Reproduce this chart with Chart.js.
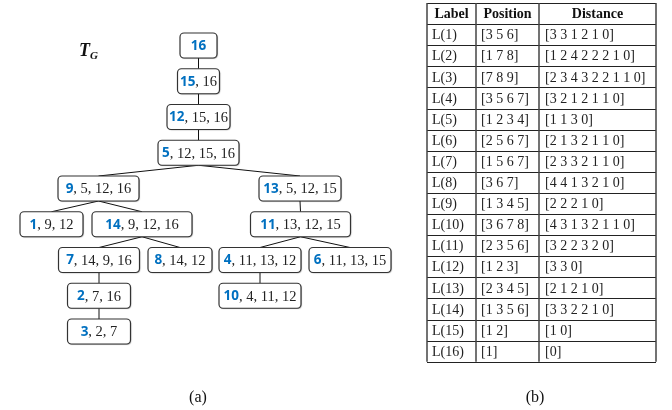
<!DOCTYPE html>
<html>
<head>
<meta charset="utf-8">
<script src="https://cdn.jsdelivr.net/npm/chart.js@4/dist/chart.umd.min.js"></script>
<style>
  html, body { margin: 0; padding: 0; background: #fff; }
  canvas { display: block; }
</style>
</head>
<body>
<canvas id="chart" width="672" height="410"></canvas>
<script>
// tree T_G : node label, its parent and the rest of its list
const nodeIds = [16, 15, 12, 5, 9, 13, 1, 14, 11, 7, 8, 4, 6, 2, 3, 10];
const nodeParent = [null, 16, 15, 12, 5, 5, 9, 9, 13, 14, 14, 11, 11, 7, 2, 4];
const nodeRest = [[], [16], [15, 16], [12, 15, 16], [5, 12, 16], [5, 12, 15], [9, 12], [9, 12, 16],
    [13, 12, 15], [14, 9, 16], [14, 12], [11, 13, 12], [11, 13, 15], [7, 16], [2, 7], [4, 11, 12]];

// table (b)
const tableHeader = ["Label", "Position", "Distance"];
const positions = [[3, 5, 6], [1, 7, 8], [7, 8, 9], [3, 5, 6, 7], [1, 2, 3, 4], [2, 5, 6, 7], [1, 5, 6, 7], [3, 6, 7],
    [1, 3, 4, 5], [3, 6, 7, 8], [2, 3, 5, 6], [1, 2, 3], [2, 3, 4, 5], [1, 3, 5, 6], [1, 2], [1]];
const distances = [[3, 3, 1, 2, 1, 0], [1, 2, 4, 2, 2, 2, 1, 0], [2, 3, 4, 3, 2, 2, 1, 1, 0], [3, 2, 1, 2, 1, 1, 0],
    [1, 1, 3, 0], [2, 1, 3, 2, 1, 1, 0], [2, 3, 3, 2, 1, 1, 0], [4, 4, 1, 3, 2, 1, 0], [2, 2, 2, 1, 0],
    [4, 3, 1, 3, 2, 1, 1, 0], [3, 2, 2, 3, 2, 0], [3, 3, 0], [2, 1, 2, 1, 0], [3, 3, 2, 2, 1, 0], [1, 0], [0]];

// layout of the tree drawing (horizontal slot and box width of each node)
const layoutX = [198.5, 198.5, 198.5, 198.5, 98.5, 300, 51.5, 142, 300.5, 99, 180, 260, 350, 99, 99, 260];
const boxW = [37, 42, 63, 81, 81, 82, 63, 100, 100, 81, 64, 82, 82, 63, 63, 82];
const boxH = 25;
const levelTop = 45.5, levelStep = 35.75;

const SERIF = '"Liberation Serif", "DejaVu Serif", serif';
const SANS = '"Noto Sans", "Liberation Sans", sans-serif';

function depthOf(i) {
    let d = 0, p = nodeParent[i];
    while (p !== null) {
        d++;
        p = nodeParent[nodeIds.indexOf(p)];
    }
    return d;
}

const nodePoints = nodeIds.map((id, i) => ({x: layoutX[i], y: levelTop + depthOf(i) * levelStep}));

function roundRect(ctx, x, y, w, h, r) {
    ctx.beginPath();
    ctx.moveTo(x + r, y);
    ctx.arcTo(x + w, y, x + w, y + h, r);
    ctx.arcTo(x + w, y + h, x, y + h, r);
    ctx.arcTo(x, y + h, x, y, r);
    ctx.arcTo(x, y, x + w, y, r);
    ctx.closePath();
}

const treePlugin = {
    id: 'treeDraw',
    afterDatasetsDraw(chart) {
        const ctx = chart.ctx;
        const pts = chart.getDatasetMeta(0).data;
        ctx.save();
        // edges: parent bottom centre to child top centre
        ctx.strokeStyle = '#111';
        ctx.lineWidth = 1;
        nodeIds.forEach((id, i) => {
            if (nodeParent[i] === null) return;
            const p = pts[nodeIds.indexOf(nodeParent[i])];
            const c = pts[i];
            ctx.beginPath();
            ctx.moveTo(p.x, p.y + boxH / 2);
            ctx.lineTo(c.x, c.y - boxH / 2);
            ctx.stroke();
        });
        // boxes
        nodeIds.forEach((id, i) => {
            const c = pts[i];
            const w = boxW[i];
            ctx.save();
            ctx.shadowColor = 'rgba(0,0,0,0.35)';
            ctx.shadowOffsetX = 0.8;
            ctx.shadowOffsetY = 0.8;
            ctx.shadowBlur = 1;
            roundRect(ctx, c.x - w / 2, c.y - boxH / 2, w, boxH, 4);
            ctx.fillStyle = '#fff';
            ctx.fill();
            ctx.restore();
            roundRect(ctx, c.x - w / 2, c.y - boxH / 2, w, boxH, 4);
            ctx.strokeStyle = '#333';
            ctx.lineWidth = 1.2;
            ctx.stroke();

            const head = String(id);
            const rest = nodeRest[i].length ? ', ' + nodeRest[i].join(', ') : '';
            ctx.font = 'bold 13.5px ' + SANS;
            const w1 = ctx.measureText(head).width;
            ctx.font = '14.5px ' + SERIF;
            const w2 = ctx.measureText(rest).width;
            let x = c.x - (w1 + w2) / 2;
            ctx.textBaseline = 'middle';
            ctx.textAlign = 'left';
            ctx.font = 'bold 13.5px ' + SANS;
            ctx.fillStyle = '#0070C0';
            ctx.fillText(head, x, c.y + 0.5);
            ctx.font = '14.5px ' + SERIF;
            ctx.fillStyle = '#222';
            ctx.fillText(rest, x + w1, c.y + 1);
        });
        // title T_G
        const xs = chart.scales.x, ys = chart.scales.y;
        ctx.fillStyle = '#111';
        ctx.textBaseline = 'alphabetic';
        ctx.font = 'italic bold 18px ' + SERIF;
        ctx.fillText('T', xs.getPixelForValue(79), ys.getPixelForValue(56));
        ctx.font = 'italic bold 11px ' + SERIF;
        ctx.fillText('G', xs.getPixelForValue(90), ys.getPixelForValue(59));
        ctx.restore();
    }
};

const tablePlugin = {
    id: 'tableDraw',
    afterDatasetsDraw(chart) {
        const ctx = chart.ctx;
        const xs = chart.scales.x, ys = chart.scales.y;
        const colX = [427, 476, 539, 656].map(v => xs.getPixelForValue(v));
        const top = 3, rowH = 21.1;
        const nRows = positions.length + 1;
        const rowY = k => ys.getPixelForValue(top + k * rowH);
        ctx.save();
        // text
        ctx.textBaseline = 'middle';
        ctx.fillStyle = '#111';
        ctx.font = 'bold 14px ' + SERIF;
        ctx.textAlign = 'center';
        tableHeader.forEach((h, j) => {
            ctx.fillText(h, (colX[j] + colX[j + 1]) / 2, (rowY(0) + rowY(1)) / 2 + 1);
        });
        ctx.font = '14px ' + SERIF;
        ctx.textAlign = 'left';
        ctx.fillStyle = '#222';
        positions.forEach((p, i) => {
            const cy = (rowY(i + 1) + rowY(i + 2)) / 2 + 1;
            ctx.fillText('L(' + (i + 1) + ')', colX[0] + 5, cy);
            ctx.fillText('[' + p.join(' ') + ']', colX[1] + 5, cy);
            ctx.fillText('[' + distances[i].join(' ') + ']', colX[2] + 6, cy);
        });
        // grid
        ctx.strokeStyle = '#222';
        ctx.lineWidth = 1;
        for (let k = 0; k <= nRows; k++) {
            const y = Math.round(rowY(k)) + 0.5;
            ctx.beginPath();
            ctx.moveTo(colX[0], y);
            ctx.lineTo(colX[3], y);
            ctx.stroke();
        }
        ctx.lineWidth = 1.5;
        ctx.strokeStyle = '#444';
        colX.forEach(x => {
            ctx.beginPath();
            ctx.moveTo(x, rowY(0));
            ctx.lineTo(x, rowY(nRows));
            ctx.stroke();
        });
        // captions
        ctx.fillStyle = '#111';
        ctx.font = '16px ' + SERIF;
        ctx.textAlign = 'center';
        ctx.fillText('(a)', xs.getPixelForValue(198), ys.getPixelForValue(398));
        ctx.fillText('(b)', xs.getPixelForValue(535), ys.getPixelForValue(398));
        ctx.restore();
    }
};

new Chart(document.getElementById('chart'), {
    type: 'scatter',
    data: {
        datasets: [{
            label: 'nodes',
            data: nodePoints,
            pointRadius: 0,
            pointHoverRadius: 0
        }]
    },
    options: {
        responsive: false,
        animation: false,
        layout: {padding: 0},
        plugins: {legend: {display: false}, tooltip: {enabled: false}},
        scales: {
            x: {type: 'linear', min: 0, max: 672, display: false},
            y: {type: 'linear', min: 0, max: 410, reverse: true, display: false}
        }
    },
    plugins: [treePlugin, tablePlugin]
});
</script>
</body>
</html>
